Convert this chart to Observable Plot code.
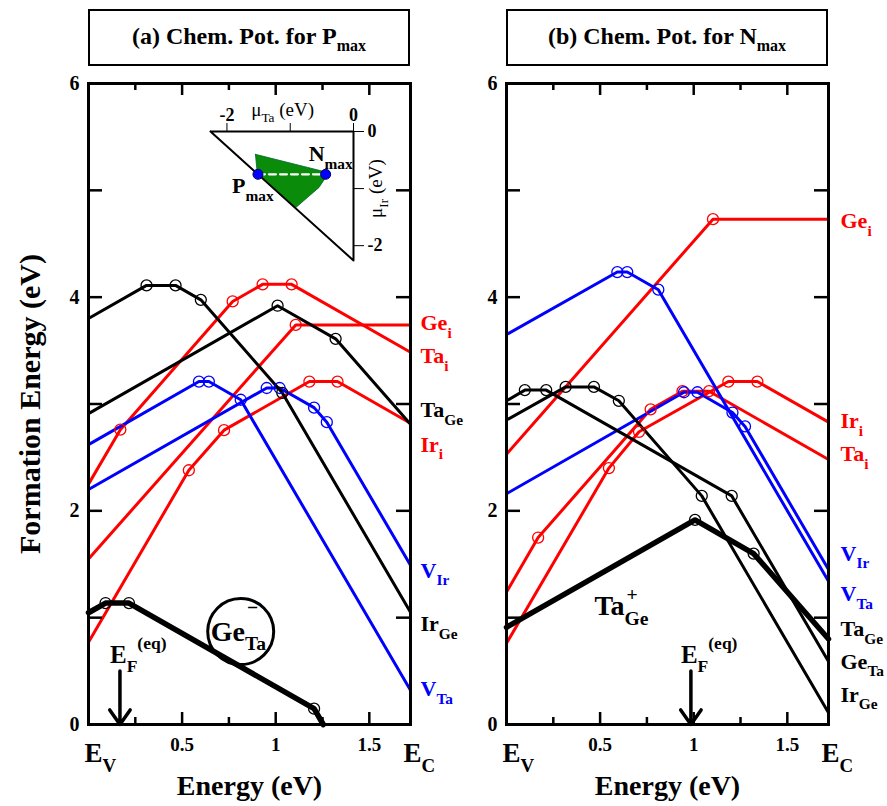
<!DOCTYPE html>
<html>
<head>
<meta charset="utf-8">
<script src="https://cdn.jsdelivr.net/npm/d3@7"></script>
<script src="https://cdn.jsdelivr.net/npm/@observablehq/plot@0.6"></script>
<style>
  body { margin: 0; background: #fff; }
  #wrap { position: relative; width: 887px; height: 806px; overflow: hidden; background: #fff;
          font-family: "Liberation Serif", "Times New Roman", serif; }
  .title { position: absolute; top: 9px; height: 57px; box-sizing: border-box; border: 2.5px solid #000;
           display: flex; align-items: center; justify-content: center; font-weight: bold; font-size: 24px;
           font-family: "Liberation Serif", "Times New Roman", serif; color: #000; padding-bottom: 2px; }
  .title span.sub { font-size: 16px; position: relative; top: 9px; }
</style>
</head>
<body>
<div id="wrap"></div>
<script>
// ---------------- data ----------------
const bandGap = 1.72;                 // E_V = 0 ... E_C
const yTicks = [1, 2, 3, 4, 5];
const yTickLabels = [0, 2, 4, 6];
const xMajor = [0.5, 1, 1.5];
const xMinor = [0.25, 0.75, 1.25];
const xTickText = ["0.5", "1", "1.5"];
const edgeTicks = [0, bandGap];
const edgeTickText = ["E_{V}", "E_{C}"];
const panelTitles = ["(a) Chem. Pot. for P", "(b) Chem. Pot. for N"];

const red = "#ff0000", blue = "#0000ff", black = "#000000";

// (a) chemical potentials for P_max : [Fermi level (eV), formation energy (eV)] at kinks
const aGei  = [[0,1.55],[1.107,3.74],[1.72,3.74]];
const aTai  = [[0,2.25],[0.17,2.76],[0.77,3.96],[0.93,4.12],[1.085,4.12],[1.72,3.485]];
const aIri  = [[0,0.77],[0.536,2.38],[0.724,2.755],[1.18,3.21],[1.33,3.21],[1.72,2.82]];
const aVTa  = [[0,2.62],[0.59,3.21],[0.643,3.21],[0.813,3.04],[1.72,0.32]];
const aVIr  = [[0,2.20],[0.952,3.15],[1.021,3.15],[1.205,2.966],[1.273,2.83],[1.72,1.49]];
const aIrGe = [[0,3.80],[0.31,4.11],[0.465,4.11],[0.60,3.975],[1.035,3.105],[1.72,1.05]];
const aTaGe = [[0,2.91],[1.01,3.92],[1.32,3.61],[1.72,2.81]];
const aGeTa = [[0,1.046],[0.091,1.137],[0.216,1.137],[1.205,0.148],[1.254,0]];

// (b) chemical potentials for N_max
const bGei  = [[0,2.53],[1.103,4.73],[1.72,4.73]];
const bIri  = [[0,0.76],[0.547,2.40],[0.708,2.74],[1.185,3.21],[1.34,3.21],[1.72,2.83]];
const bTai  = [[0,1.24],[0.169,1.75],[0.77,2.95],[0.94,3.12],[1.082,3.12],[1.72,2.48]];
const bVTa  = [[0,3.65],[0.592,4.235],[0.645,4.235],[0.811,4.07],[1.72,1.34]];
const bVIr  = [[0,2.16],[0.948,3.11],[1.02,3.11],[1.207,2.92],[1.274,2.79],[1.72,1.45]];
const bIrGe = [[0,2.85],[0.316,3.16],[0.467,3.16],[0.60,3.03],[1.043,2.14],[1.72,0.11]];
const bGeTa = [[0,3.03],[0.098,3.13],[0.212,3.13],[1.203,2.14],[1.72,0.59]];
const bTaGe = [[0,0.91],[1.007,1.915],[1.32,1.60],[1.72,0.80]];

// right-hand labels
const aLabels = ["Ge_{i}", "Ta_{i}", "Ta_{Ge}", "Ir_{i}", "V_{Ir}", "Ir_{Ge}", "V_{Ta}"];
const aLabelY = [3.755, 3.45, 2.94, 2.62, 1.44, 0.94, 0.33];
const aLabelColor = [red, red, black, red, blue, black, blue];
const bLabels = ["Ge_{i}", "Ir_{i}", "Ta_{i}", "V_{Ir}", "V_{Ta}", "Ta_{Ge}", "Ge_{Ta}", "Ir_{Ge}"];
const bLabelY = [4.71, 2.84, 2.53, 1.60, 1.22, 0.89, 0.59, 0.28];
const bLabelColor = [red, red, red, blue, blue, black, black, black];

// equilibrium Fermi levels
const efA = 0.168, efB = 0.985;

// inset: chemical-potential triangle (mu_Ta, mu_Ir)
const insetTicks = [-2, -1, 0];
const triangleTa = [-2.26, 0, 0, -2.26];
const triangleIr = [0, 0, -2.26, 0];
const regionTa = [-1.55, -0.47, -0.42, -0.545, -0.92, -1.52, -1.55];
const regionIr = [-0.40, -0.70, -0.77, -0.98, -1.34, -0.74, -0.40];
const pointNames = ["P_{max}", "N_{max}"];
const pointTa = [-1.51, -0.44];
const pointIr = [-0.75, -0.75];

// ---------------- helpers ----------------
const serif = '"Liberation Serif", "Times New Roman", serif';
const NS = "http://www.w3.org/2000/svg";

function defectRows(list) {
  return list.flatMap(([id, pts, color, thick]) =>
    pts.map(([E, F], i) => ({id, E, F, color, thick, inner: i > 0 && i < pts.length - 1})));
}

// turn "X_{sub}^{sup}" markup into tspans  (^^ = stacked over subscript, ^! = stacked high)
function richify(root) {
  root.querySelectorAll("text").forEach(t => {
    const s = t.textContent;
    if (!/(_|\^)\{/.test(s) && !/\^!\{/.test(s)) return;
    const fs = parseFloat(getComputedStyle(t).fontSize) || 16;
    while (t.firstChild) t.removeChild(t.firstChild);
    const re = /(\^\^|\^!|\^|_)\{([^}]*)\}|([^_^]+)/g;
    let cur = 0, lastSub = null, m;
    while ((m = re.exec(s))) {
      const ts = document.createElementNS(NS, "tspan");
      let target = 0, size = fs, txt;
      if (m[3] !== undefined) { txt = m[3]; }
      else {
        txt = m[2]; size = fs * 0.7;
        target = m[1] === "_" ? 0.35 * fs : m[1] === "^!" ? -0.95 * fs : m[1] === "^^" ? -0.5 * fs : -0.55 * fs;
      }
      ts.setAttribute("font-size", size);
      if (target !== cur) ts.setAttribute("dy", target - cur);
      cur = target;
      ts.textContent = txt;
      t.appendChild(ts);
      if ((m[1] === "^^" || m[1] === "^!") && lastSub) ts.setAttribute("dx", -lastSub.getComputedTextLength() + 2);
      lastSub = m[1] === "_" ? ts : null;
    }
  });
}

function panel({defects, labels, labelY, labelColor, ef, width, marginLeft, marginRight, yTitle, labelDx, extra}) {
  const rows = defectRows(defects);
  const H = 806 - 83 - 82, W = width - marginLeft - marginRight;
  return Plot.plot({
    width, height: 806, marginTop: 83, marginBottom: 82, marginLeft, marginRight,
    x: {domain: [0, bandGap], axis: null},
    y: {domain: [0, 6], axis: null},
    color: {type: "identity"},
    style: {background: "transparent", maxWidth: "none", overflow: "visible",
            fontFamily: serif, fontWeight: "bold", fontSize: "20px", color: "#000"},
    marks: [
      Plot.line(rows.filter(d => !d.thick), {x: "E", y: "F", z: "id", stroke: d => d.color, strokeWidth: 3}),
      Plot.line(rows.filter(d => d.thick), {x: "E", y: "F", z: "id", stroke: d => d.color, strokeWidth: 5.5}),
      Plot.dot(rows.filter(d => d.inner), {x: "E", y: "F", r: 5.5, stroke: d => d.color, strokeWidth: 1.3, fill: "none"}),
      // ticks (inward, all four sides)
      Plot.tickX(xMajor, {x: d => d, insetTop: H - 12, strokeWidth: 2.5}),
      Plot.tickX(xMinor, {x: d => d, insetTop: H - 7, strokeWidth: 2.5}),
      Plot.tickX(xMajor, {x: d => d, insetBottom: H - 12, strokeWidth: 2.5}),
      Plot.tickX(xMinor, {x: d => d, insetBottom: H - 7, strokeWidth: 2.5}),
      Plot.tickY(yTicks, {y: d => d, insetRight: W - 14, strokeWidth: 2.5}),
      Plot.tickY(yTicks, {y: d => d, insetLeft: W - 14, strokeWidth: 2.5}),
      Plot.frame({strokeWidth: 3}),
      // tick labels
      Plot.text(xMajor, {x: d => d, text: (d, i) => xTickText[i], frameAnchor: "bottom", lineAnchor: "middle", dy: 20, fontSize: 19}),
      Plot.text([edgeTicks[0]], {x: d => d, text: () => edgeTickText[0], frameAnchor: "bottom", lineAnchor: "middle", dy: 29, dx: -4, textAnchor: "start", fontSize: 27}),
      Plot.text([edgeTicks[1]], {x: d => d, text: () => edgeTickText[1], frameAnchor: "bottom", lineAnchor: "middle", dy: 29, dx: -7, textAnchor: "start", fontSize: 27}),
      Plot.text(yTickLabels, {y: d => d, text: d => String(d), frameAnchor: "left", lineAnchor: "middle", dx: -9, textAnchor: "end", fontSize: 20}),
      // axis titles
      Plot.text(["Energy (eV)"], {x: bandGap / 2, text: d => d, frameAnchor: "bottom", lineAnchor: "middle", textAnchor: "middle", dy: 62, fontSize: 28}),
      ...(yTitle ? [Plot.text([yTitle], {y: 3, text: d => d, frameAnchor: "left", textAnchor: "middle", lineAnchor: "middle", dx: -58, rotate: -90, fontSize: 30})] : []),
      // defect labels
      Plot.text(labels, {x: bandGap, y: (d, i) => labelY[i], text: d => d, fill: (d, i) => labelColor[i],
                         textAnchor: "start", dx: labelDx, fontSize: 22}),
      // equilibrium Fermi level arrow
      Plot.arrow([ef], {x1: d => d, x2: d => d, y1: 0.5, y2: 0, strokeWidth: 3.5, headAngle: 70, headLength: 8}),
      Plot.text([ef], {x: d => d, y: 0.65, text: () => "E_{F}^{(eq)}", textAnchor: "start", dx: -10, fontSize: 25}),
      ...extra
    ]
  });
}

// ---------------- panels ----------------
const wrap = document.getElementById("wrap");
function place(el, left, top) {
  el.style.position = "absolute"; el.style.left = left + "px"; el.style.top = top + "px";
  wrap.appendChild(el);
}

const chartA = panel({
  defects: [["Gei", aGei, red], ["Tai", aTai, red], ["Iri", aIri, red], ["VTa", aVTa, blue], ["VIr", aVIr, blue],
            ["IrGe", aIrGe, black], ["TaGe", aTaGe, black], ["GeTa", aGeTa, black, true]],
  labels: aLabels, labelY: aLabelY, labelColor: aLabelColor, ef: efA,
  width: 470, marginLeft: 88, marginRight: 60, yTitle: "Formation Energy (eV)", labelDx: 10,
  extra: [
    Plot.dot([[0.813, 0.87]], {x: d => d[0], y: d => d[1], r: 33, stroke: "black", strokeWidth: 3, fill: "none"}),
    Plot.text([[0.813, 0.87]], {x: d => d[0], y: d => d[1], text: () => "Ge_{Ta}^!{−}", textAnchor: "start", dx: -30, fontSize: 28})
  ]
});
place(chartA, 0, 0);

const chartB = panel({
  defects: [["Gei", bGei, red], ["Iri", bIri, red], ["Tai", bTai, red], ["VTa", bVTa, blue], ["VIr", bVIr, blue],
            ["IrGe", bIrGe, black], ["GeTa", bGeTa, black], ["TaGe", bTaGe, black, true]],
  labels: bLabels, labelY: bLabelY, labelColor: bLabelColor, ef: efB,
  width: 417, marginLeft: 36, marginRight: 59, yTitle: null, labelDx: 12,
  extra: [
    Plot.text([[0.47, 1.11]], {x: d => d[0], y: d => d[1], text: () => "Ta_{Ge}^^{+}", textAnchor: "start", fontSize: 28})
  ]
});
place(chartB, 470, 0);

// ---------------- inset ----------------
const tri = triangleTa.map((t, i) => ({t, r: triangleIr[i]}));
const region = regionTa.map((t, i) => ({t, r: regionIr[i]}));
const pts = pointTa.map((t, i) => ({t, r: pointIr[i], name: pointNames[i]}));
const insetChart = Plot.plot({
  width: 210, height: 176, marginLeft: 30, marginRight: 37, marginTop: 41, marginBottom: 6,
  x: {domain: [-2.26, 0], axis: "top", ticks: insetTicks, tickSize: 9, tickPadding: 2,
      tickFormat: d => d === -1 ? "" : String(d), label: null},
  y: {domain: [-2.26, 0], axis: "right", ticks: insetTicks, tickSize: 10, tickPadding: 4,
      tickFormat: d => d === -1 ? "" : String(d), label: null},
  style: {background: "transparent", maxWidth: "none", overflow: "visible",
          fontFamily: serif, fontWeight: "bold", fontSize: "18px", color: "#000"},
  marks: [
    Plot.line(region, {x: "t", y: "r", fill: "#0a8c0a", stroke: "#063", strokeWidth: 0.8}),
    Plot.line(tri, {x: "t", y: "r", stroke: "black", strokeWidth: 2}),
    Plot.line(pts, {x: "t", y: "r", stroke: "white", strokeWidth: 2.2, strokeDasharray: "7,4"}),
    Plot.dot(pts, {x: "t", y: "r", r: 5, fill: "#0000ff", stroke: "#000060", strokeWidth: 1}),
    Plot.text([pts[1]], {x: "t", y: "r", text: "name", textAnchor: "start", dx: -17, dy: -20, fontSize: 22}),
    Plot.text([pts[0]], {x: "t", y: "r", text: "name", textAnchor: "start", dx: -26, dy: 12, fontSize: 22}),
    Plot.text(["μ_{Ta} (eV)"], {x: -1.12, text: d => d, frameAnchor: "top", textAnchor: "middle", lineAnchor: "middle", dy: -22, fontWeight: "normal", fontSize: 19}),
    Plot.text(["μ_{Ir} (eV)"], {y: -1.0, text: d => d, frameAnchor: "right", textAnchor: "middle", lineAnchor: "middle", dx: 22, rotate: -90, fontWeight: "normal", fontSize: 19})
  ]
});
place(insetChart, 180, 90);

richify(wrap);

// ---------------- panel titles ----------------
[[chartA, 0, panelTitles[0]], [chartB, 470, panelTitles[1]]].forEach(([c, off, t]) => {
  const [r0, r1] = c.scale("x").range;
  const div = document.createElement("div");
  div.className = "title";
  div.innerHTML = `<span>${t}</span><span class="sub">max</span>`;
  div.style.left = (off + r0) + "px";
  div.style.width = (r1 - r0) + "px";
  wrap.appendChild(div);
});
</script>
</body>
</html>
